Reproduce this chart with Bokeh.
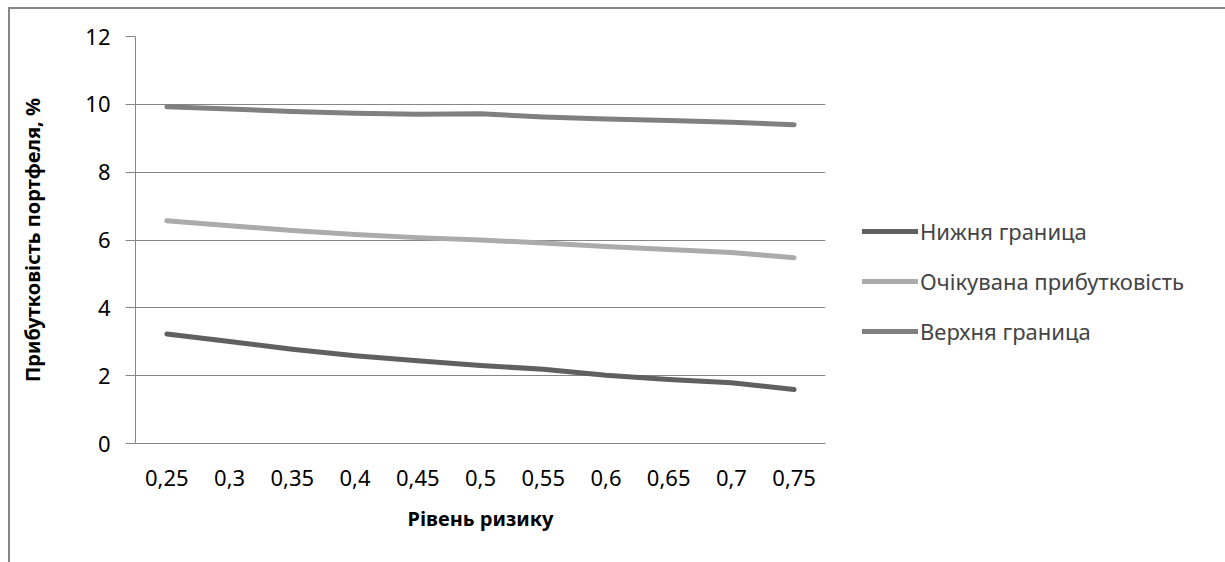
from bokeh.plotting import figure
from bokeh.models import FactorRange, Range1d, FixedTicker, Legend, LegendItem
from bokeh.embed import file_html
from bokeh.resources import INLINE

categories = ["0,25", "0,3", "0,35", "0,4", "0,45", "0,5", "0,55", "0,6", "0,65", "0,7", "0,75"]
lower = [3.23, 3.01, 2.78, 2.59, 2.44, 2.30, 2.19, 2.01, 1.89, 1.79, 1.59]
expected = [6.57, 6.42, 6.28, 6.16, 6.07, 6.00, 5.91, 5.81, 5.72, 5.63, 5.48]
upper = [9.93, 9.86, 9.79, 9.74, 9.71, 9.72, 9.63, 9.57, 9.52, 9.47, 9.40]
series_names = ["Нижня граница", "Очікувана прибутковість", "Верхня граница"]
y_ticks = [0, 2, 4, 6, 8, 10, 12]

FONT = "Noto Sans"
GRID = "#868686"

p = figure(frame_width=690, frame_height=407, x_range=FactorRange(*categories, range_padding=0),
           y_range=Range1d(0, 12), output_backend="svg", toolbar_location=None,
           min_border_left=125, min_border_top=27, min_border_bottom=121, min_border_right=20)
p.styles = {"margin-left": "8px", "margin-top": "7px",
            "border-left": "2px solid #878787", "border-top": "2px solid #878787"}
p.outline_line_color = None
p.background_fill_color = "white"
p.border_fill_color = "white"

r1 = p.line(categories, lower, line_color="#606060", line_width=5, line_cap="round", line_join="round")
r2 = p.line(categories, expected, line_color="#ababab", line_width=5, line_cap="round", line_join="round")
r3 = p.line(categories, upper, line_color="#808080", line_width=5, line_cap="round", line_join="round")

p.xgrid.grid_line_color = None
p.ygrid.grid_line_color = GRID
p.ygrid.grid_line_width = 1
p.yaxis.ticker = FixedTicker(ticks=y_ticks)

for ax in (p.xaxis[0], p.yaxis[0]):
    ax.axis_line_color = GRID
    ax.axis_line_width = 1
    ax.major_label_text_font = FONT
    ax.major_label_text_font_size = "22px"
    ax.major_label_text_color = "black"
    ax.axis_label_text_font = FONT
    ax.axis_label_text_font_style = "bold"
    ax.axis_label_text_font_size = "20px"
    ax.axis_label_text_color = "black"
    ax.minor_tick_line_color = None

p.yaxis.major_tick_out = 10
p.yaxis.major_tick_in = 0
p.yaxis.major_tick_line_color = GRID
p.yaxis.major_label_standoff = 15
p.yaxis.axis_label = "Прибутковість портфеля, %"
p.yaxis.axis_label_standoff = 36

p.xaxis.major_tick_line_color = None
p.xaxis.major_label_standoff = 20
p.xaxis.axis_label = "Рівень ризику"
p.xaxis.axis_label_standoff = 16
p.xaxis.group_text_font_size = "0px"

legend = Legend(items=[LegendItem(label=series_names[0], renderers=[r1]),
                       LegendItem(label=series_names[1], renderers=[r2]),
                       LegendItem(label=series_names[2], renderers=[r3])],
                location=(37, 97), orientation="vertical",
                glyph_width=56, glyph_height=26, label_standoff=2, spacing=20,
                padding=0, margin=0, border_line_color=None, background_fill_alpha=0,
                label_text_font=FONT, label_text_font_size="22px")
p.add_layout(legend, "right")

open("out.html", "w").write(file_html(p, INLINE))
